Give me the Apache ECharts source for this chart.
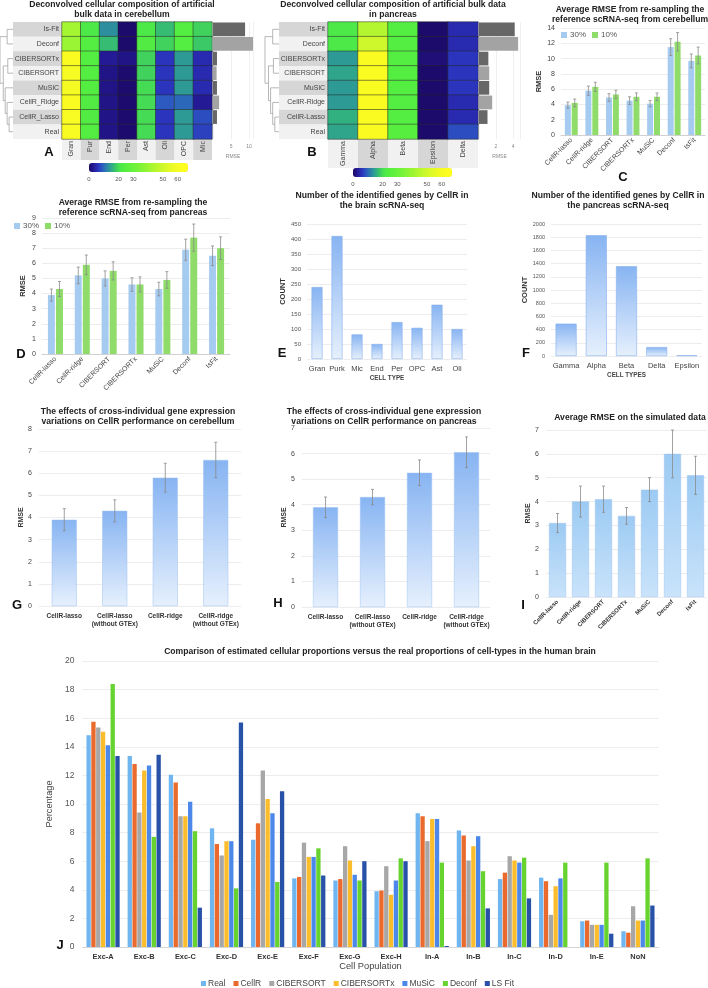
<!DOCTYPE html>
<html><head><meta charset="utf-8">
<script src="https://cdn.jsdelivr.net/npm/echarts@6/dist/echarts.min.js"></script>
<style>html,body{margin:0;padding:0;background:#fff}#c{width:708px;height:988px}</style>
</head><body><div id="c"></div>
<script>
// ================= DATA =================
const brainCells = ['Gran','Pur','End','Per','Ast','Oli','OPC','Mic'];
const brainMethods = ['Is-Fit','Deconf','CIBERSORTx','CIBERSORT','MuSiC','CellR_Ridge','CellR_Lasso','Real'];
const brainProp = [
  [42,22,13,0.3,22,17,24,19],
  [40,24,17,0.3,23,19,24,18],
  [62,24,3,2,19,6,14,5],
  [60,24,2,0.5,19,6,14,5],
  [60,24,2,0.5,20,6,14,5],
  [62,23,2,0.5,20,9,10,3],
  [61,23,2,0.5,20,6,14,8],
  [61,24,2,0.5,20,6,14,7]
];
const brainRMSE = [8.9,11.4,1.1,1.0,1.1,1.7,1.1,null];
const pancCells = ['Gamma','Alpha','Beta','Epsilon','Delta'];
const pancMethods = ['Is-Fit','Deconf','CIBERSORTx','CIBERSORT','MuSiC','CellR-Ridge','CellR-Lasso','Real'];
const pancProp = [
  [22,45,24,0.3,5],
  [22,50,24,0.3,5],
  [14,62,24,1,6],
  [15,62,24,0.3,6],
  [14,62,24,0.3,6],
  [14,62,24,0.3,5],
  [16,62,24,0.3,5],
  [15,62,25,0.3,8]
];
const pancRMSE = [4.2,4.6,1.1,1.2,1.2,1.55,1.0,null];
const colorbarTicks = [0,20,30,50,60];

const methods7 = ['CellR-lasso','CellR-ridge','CIBERSORT','CIBERSORTx','MuSiC','Deconf','IsFit'];
const cereb30 = [3.9,5.8,4.9,4.5,4.1,11.5,9.7];
const cereb30Err = [0.4,0.6,0.5,0.5,0.4,1.1,0.9];
const cereb10 = [4.2,6.3,5.3,5.0,5.0,12.2,10.4];
const cereb10Err = [0.5,0.6,0.55,0.5,0.5,1.2,1.1];
const panc30 = [3.9,5.2,5.0,4.6,4.3,6.9,6.5];
const panc30Err = [0.4,0.55,0.5,0.45,0.45,0.7,0.65];
const panc10 = [4.3,5.9,5.5,4.6,4.9,7.7,7.0];
const panc10Err = [0.5,0.65,0.6,0.5,0.55,0.9,0.75];

const brainTypes = ['Gran','Purk','Mic','End','Per','OPC','Ast','Oli'];
const brainGenes = [240,410,82,50,123,104,181,100];
const pancTypes = ['Gamma','Alpha','Beta','Delta','Epsilon'];
const pancGenes = [490,1830,1360,135,10];

const gtexCats = ['CellR-lasso','CellR-lasso\n(without GTEx)','CellR-ridge','CellR-ridge\n(without GTEx)'];
const gtexCereb = [3.9,4.3,5.8,6.6];
const gtexCerebErr = [0.5,0.5,0.65,0.8];
const gtexPanc = [3.9,4.3,5.25,6.05];
const gtexPancErr = [0.4,0.3,0.5,0.6];

const simRMSE = [3.1,4.0,4.1,3.4,4.5,6.0,5.1];
const simErr = [0.4,0.65,0.55,0.35,0.5,1.0,0.8];

const popCats = ['Exc-A','Exc-B','Exc-C','Exc-D','Exc-E','Exc-F','Exc-G','Exc-H','In-A','In-B','In-C','In-D','In-E','NoN'];
const popNames = ['Real','CellR','CIBERSORT','CIBERSORTx','MuSiC','Deconf','LS Fit'];
const popReal       = [14.8,13.35,12.05,8.3,7.5,4.8,4.65,3.9,9.35,8.15,4.75,4.85,1.8,1.1];
const popCellR      = [15.75,12.8,11.5,7.2,8.65,4.9,4.75,3.95,9.15,7.8,5.2,4.6,1.85,1.0];
const popCIBERSORT  = [15.35,9.4,9.15,6.4,12.35,7.3,7.05,5.65,7.4,6.05,6.35,2.25,1.55,2.85];
const popCIBERSORTx = [15.05,12.35,9.15,7.4,10.35,6.3,6.05,3.65,8.95,7.05,6.05,4.25,1.55,1.85];
const popMuSiC      = [14.1,12.7,10.15,7.4,9.35,6.3,5.05,4.65,8.95,7.75,5.9,4.8,1.55,1.85];
const popDeconf     = [18.4,7.7,8.1,4.1,4.55,6.9,4.65,6.2,5.9,5.3,6.25,5.9,5.9,6.2];
const popLSFit      = [13.35,13.45,2.75,15.7,10.9,5.0,6.0,6.0,0.07,2.7,3.4,0,0.93,2.9];

// ================= BUILD =================
const FF = 'Liberation Sans, Arial, sans-serif';
const grids=[], xAxes=[], yAxes=[], series=[], graphics=[], visualMaps=[], legends=[];
function addGrid(g, x, y){
  grids.push(Object.assign({containLabel:false, outerBoundsMode:'none'}, g));
  const gi = grids.length-1; x.gridIndex=gi; y.gridIndex=gi;
  xAxes.push(x); yAxes.push(y);
  return {x: xAxes.length-1, y: yAxes.length-1};
}
function txt(x, y, text, font, opt){
  graphics.push({type:'text', x, y, silent:true, style:Object.assign({text, font, fill:'#222', textAlign:'center', textVerticalAlign:'top'}, opt||{})});
}
const gridLine = {show:true, lineStyle:{color:'#e8e8e8', width:0.8}};
const noLine = {show:false};
const plainNum = v => String(v);

// ---------- heatmaps ----------
const hmColors = ['#1c0966','#241a96','#2a35bd','#2c5cc0','#2c86a6','#2fa88a','#3ccb62','#4be84a','#55ee40','#5ff03e','#6af23b','#78f338','#88f436','#98f534','#a8f632','#b8f72f','#c8f82c','#d6f92a','#e4fa27','#f0fb25','#f8fc22','#fdfd20','#ffff1f'];
function rowRich(){
  return {
    g:{backgroundColor:'#d6d6d6', width:46, height:14.625, padding:[0,3,0,0], align:'right', fontSize:7, color:'#444', fontFamily:FF},
    l:{backgroundColor:'#f1f1f1', width:46, height:14.625, padding:[0,3,0,0], align:'right', fontSize:7, color:'#444', fontFamily:FF}
  };
}
function colRich(w, h){
  return {
    g:{backgroundColor:'#d6d6d6', width:w-2, height:h, padding:[0,2,0,0], align:'right', fontSize:7, color:'#444', fontFamily:FF},
    l:{backgroundColor:'#f1f1f1', width:w-2, height:h, padding:[0,2,0,0], align:'right', fontSize:7, color:'#444', fontFamily:FF}
  };
}
function heatPanel(cells, methods, props, rmse, L, W, colH, rmseW, rmseMax, rmseInt, cbLeft, cbTop, dLeft){
  const top=22, H=117;
  const colW = W/cells.length;
  const ax = addGrid({left:L, top, width:W, height:H},
    {type:'category', data:cells, position:'bottom', axisLine:noLine, axisTick:noLine, splitLine:noLine,
     axisLabel:{rotate:90, margin:0, interval:0, formatter:(v,i)=>`{${i%2?'g':'l'}|${v}}`, rich:colRich(colH, colW)}},
    {type:'category', data:methods, inverse:true, axisLine:noLine, axisTick:noLine, splitLine:noLine,
     axisLabel:{margin:0, interval:0, formatter:(v,i)=>`{${i%2?'l':'g'}|${v}}`, rich:rowRich()}});
  const data=[];
  props.forEach((r,ri)=>r.forEach((v,ci)=>data.push([ci,ri,v])));
  series.push({type:'heatmap', xAxisIndex:ax.x, yAxisIndex:ax.y, data, itemStyle:{borderColor:'#262626', borderWidth:0.5}, emphasis:{disabled:true}, silent:true});
  const si = series.length-1;
  visualMaps.push({type:'continuous', seriesIndex:si, min:0, max:67, orient:'horizontal', left:cbLeft, top:cbTop,
    itemWidth:9, itemHeight:99, calculable:false, hoverLink:false, padding:0, inRange:{color:hmColors}, textStyle:{fontSize:1, color:'rgba(0,0,0,0)'}});
  addGrid({left:cbLeft, top:cbTop+9, width:99, height:1},
    {type:'value', min:0, max:67, interval:10, axisLine:noLine, axisTick:noLine, splitLine:noLine,
     axisLabel:{margin:3, fontSize:6, color:'#555', showMaxLabel:false, formatter:v=>colorbarTicks.includes(v)?String(v):''}},
    {type:'value', show:false});
  const bx = addGrid({left:L+W+1, top, width:rmseW, height:H},
    {type:'value', min:0, max:rmseMax, interval:rmseInt, axisLine:noLine, axisTick:noLine,
     splitLine:{show:true, lineStyle:{color:'#e6e6e6', width:0.6}},
     axisLabel:{margin:5, fontSize:5, color:'#888', showMinLabel:false, showMaxLabel:false},
     name:'RMSE', nameLocation:'middle', nameGap:15, nameTextStyle:{fontSize:5, color:'#888'}},
    {type:'category', data:methods, inverse:true, show:false});
  series.push({type:'bar', xAxisIndex:bx.x, yAxisIndex:bx.y, data:rmse, barCategoryGap:'6%', silent:true,
    itemStyle:{color:p=>p.dataIndex%2?'#a3a3a3':'#676767'}});
  const rowH = H/methods.length, w = L-49-dLeft;
  const boxLeft = L-49;
  const tree = [[0,1,0.45],[[2,3,0.4],[4,[5,[6,7,0.3],0.45],0.6],0.75],1.0];
  const ln=(x1,y1,x2,y2)=>graphics.push({type:'line', silent:true, shape:{x1,y1,x2,y2}, style:{stroke:'#9a9a9a', lineWidth:0.7}});
  function node(n){
    if(typeof n==='number') return {x:boxLeft, y:top+rowH*(n+0.5)};
    const a=node(n[0]), b=node(n[1]); const x=boxLeft-n[2]*w;
    ln(x,a.y,x,b.y); ln(x,a.y,a.x,a.y); ln(x,b.y,b.x,b.y);
    return {x, y:(a.y+b.y)/2};
  }
  node(tree);
}
heatPanel(brainCells, brainMethods, brainProp, brainRMSE, 62, 150, 21, 40, 11.1, 5, 89, 163, 0);
heatPanel(pancCells, pancMethods, pancProp, pancRMSE, 328, 150, 29, 41, 4.82, 2, 353, 168, 265);

// ---------- error bar helper ----------
function errSeries(ax, vals, errs, offset){
  return {type:'custom', xAxisIndex:ax.x, yAxisIndex:ax.y, z:10, silent:true,
    data: vals.map((v,i)=>[i, v-errs[i], v+errs[i]]),
    encode:{x:0, y:[1,2]},
    renderItem(params, api){
      const lo = api.coord([api.value(0), api.value(1)]);
      const hi = api.coord([api.value(0), api.value(2)]);
      const x = lo[0]+offset, cw=1.5, st={stroke:'#8a8a8a', lineWidth:0.8};
      return {type:'group', children:[
        {type:'line', shape:{x1:x,y1:lo[1],x2:x,y2:hi[1]}, style:st},
        {type:'line', shape:{x1:x-cw,y1:lo[1],x2:x+cw,y2:lo[1]}, style:st},
        {type:'line', shape:{x1:x-cw,y1:hi[1],x2:x+cw,y2:hi[1]}, style:st}]};
    }};
}
const BLUE='#a6cbf0', GREEN='#8fdc6a';
function pairPanel(g, ymax, yint, v30, e30, v10, e10, bw, nameGap, labelSize){
  const ax = addGrid(g,
    {type:'category', data:methods7, axisLine:{show:true, lineStyle:{color:'#d0d0d0'}}, axisTick:noLine,
     axisLabel:{rotate:45, interval:0, fontSize:labelSize, color:'#444', margin:4}},
    {type:'value', min:0, max:ymax, interval:yint, axisLine:noLine, axisTick:noLine, splitLine:gridLine,
     axisLabel:{fontSize:7, color:'#444', margin:6},
     name:'RMSE', nameLocation:'middle', nameGap, nameTextStyle:{fontSize:7.5, fontWeight:'bold', color:'#333'}});
  series.push({type:'bar', name:'30%', xAxisIndex:ax.x, yAxisIndex:ax.y, data:v30, barWidth:bw, barGap:'15%', itemStyle:{color:BLUE}, silent:true});
  series.push({type:'bar', name:'10%', xAxisIndex:ax.x, yAxisIndex:ax.y, data:v10, barWidth:bw, barGap:'15%', itemStyle:{color:GREEN}, silent:true});
  const off = bw*1.15/2;
  series.push(errSeries(ax, v30, e30, -off));
  series.push(errSeries(ax, v10, e10, off));
}
pairPanel({left:561, top:28, width:144, height:107}, 14, 2, cereb30, cereb30Err, cereb10, cereb10Err, 6, 18, 7);
pairPanel({left:42, top:218, width:188, height:136}, 9, 1, panc30, panc30Err, panc10, panc10Err, 7, 15, 7);
legends.push({data:['30%','10%'], left:561, top:31, itemWidth:6, itemHeight:6, itemGap:6, icon:'rect', padding:0, textStyle:{fontSize:8, color:'#555', padding:[0,0,0,-2]}, selectedMode:false});
legends.push({data:['30%','10%'], left:14, top:222, itemWidth:6, itemHeight:6, itemGap:6, icon:'rect', padding:0, textStyle:{fontSize:8, color:'#555', padding:[0,0,0,-2]}, selectedMode:false});

// ---------- gradient bar panels ----------
const gradBlue = ()=>new echarts.graphic.LinearGradient(0,0,0,1,[{offset:0,color:'#87b4f2'},{offset:1,color:'#e6f0fd'}]);
function countPanel(g, cats, vals, ymax, yint, bw, xname, yLabSize){
  const ax = addGrid(g,
    {type:'category', data:cats, axisLine:noLine, axisTick:noLine,
     axisLabel:{interval:0, fontSize:7.5, color:'#444', margin:6},
     name:xname, nameLocation:'middle', nameGap:16, nameTextStyle:{fontSize:6.3, fontWeight:'bold', color:'#444'}},
    {type:'value', min:0, max:ymax, interval:yint, axisLine:noLine, axisTick:noLine, splitLine:gridLine,
     axisLabel:{fontSize:yLabSize, color:'#555', margin:6, formatter:plainNum},
     name:'COUNT', nameLocation:'middle', nameGap:17, nameTextStyle:{fontSize:7.5, fontWeight:'bold', color:'#333'}});
  series.push({type:'bar', xAxisIndex:ax.x, yAxisIndex:ax.y, data:vals, barWidth:bw, silent:true,
    itemStyle:{color:gradBlue(), borderColor:'#86b0ec', borderWidth:0.6}});
}
countPanel({left:307, top:224, width:160, height:135}, brainTypes, brainGenes, 450, 50, 11, 'CELL TYPE', 6);
countPanel({left:551, top:224, width:151, height:132}, pancTypes, pancGenes, 2000, 200, 21, 'CELL TYPES', 5.5);

function rmsePanel(g, cats, vals, errs, ymax, bw, rot, labSize, color, nameGap){
  const ax = addGrid(g,
    {type:'category', data:cats, axisLine:noLine, axisTick:noLine,
     axisLabel:{interval:0, fontSize:labSize, fontWeight:'bold', color:'#333', margin:rot?4:6, rotate:rot, lineHeight:8}},
    {type:'value', min:0, max:ymax, interval:1, axisLine:noLine, axisTick:noLine, splitLine:gridLine,
     axisLabel:{fontSize:7, color:'#444', margin:7},
     name:'RMSE', nameLocation:'middle', nameGap, nameTextStyle:{fontSize:7, fontWeight:'bold', color:'#333'}});
  series.push({type:'bar', xAxisIndex:ax.x, yAxisIndex:ax.y, data:vals, barWidth:bw, silent:true,
    itemStyle:{color:color, borderColor:'#9cc3f0', borderWidth:0.5}});
  series.push(errSeries(ax, vals, errs, 0));
}
rmsePanel({left:39, top:429, width:202, height:177}, gtexCats, gtexCereb, gtexCerebErr, 8, 25, 0, 6.5, gradBlue(), 14);
rmsePanel({left:302, top:428, width:188, height:179}, gtexCats, gtexPanc, gtexPancErr, 7, 25, 0, 6.5, gradBlue(), 14);
rmsePanel({left:546, top:430, width:161, height:167}, methods7, simRMSE, simErr, 7, 17, 45, 6,
  new echarts.graphic.LinearGradient(0,0,0,1,[{offset:0,color:'#9ccaf3'},{offset:1,color:'#c9e3fa'}]), 13);

// ---------- J ----------
const popColors = ['#6fb5ef','#ea6a2e','#a7a7a7','#fbbd2c','#4c88ea','#66d32e','#2852a8'];
const popVals = [popReal,popCellR,popCIBERSORT,popCIBERSORTx,popMuSiC,popDeconf,popLSFit];
const jx = addGrid({left:82.5, top:661, width:576, height:286},
  {type:'category', data:popCats, axisLine:{show:true, lineStyle:{color:'#d5d5d5'}}, axisTick:noLine,
   axisLabel:{interval:0, fontSize:7.4, fontWeight:'bold', color:'#333', margin:6},
   name:'Cell Population', nameLocation:'middle', nameGap:15, nameTextStyle:{fontSize:9.3, color:'#444'}},
  {type:'value', min:0, max:20, interval:2, axisLine:noLine, axisTick:noLine, splitLine:gridLine,
   axisLabel:{fontSize:8.5, color:'#555', margin:8},
   name:'Percentage', nameLocation:'middle', nameGap:18, nameTextStyle:{fontSize:9.2, color:'#444'}});
popVals.forEach((d,i)=>series.push({type:'bar', name:popNames[i], xAxisIndex:jx.x, yAxisIndex:jx.y, data:d,
  barWidth:4.3, barGap:'12%', itemStyle:{color:popColors[i]}, silent:true}));
legends.push({data:popNames, left:201, top:979, itemWidth:5, itemHeight:5, itemGap:8, icon:'rect', padding:0,
  textStyle:{fontSize:8.5, color:'#444', padding:[0,0,0,-3]}, selectedMode:false});

// ---------- titles & panel letters ----------
const TF = 'bold 8.6px Liberation Sans, Arial, sans-serif';
txt(122, 0, 'Deconvolved cellular composition of artificial\nbulk data in cerebellum', TF, {lineHeight:10});
txt(393, 0, 'Deconvolved cellular composition of artificial bulk data\nin pancreas', TF, {lineHeight:10});
txt(630, 4, 'Average RMSE from re-sampling the\nreference scRNA-seq from cerebellum', TF, {lineHeight:10.5});
txt(133, 197, 'Average RMSE from re-sampling the\nreference scRNA-seq from pancreas', TF, {lineHeight:10.5});
txt(382, 190, 'Number of the identified genes by CellR in\nthe brain scRNA-seq', TF, {lineHeight:10.5});
txt(618, 190, 'Number of the identified genes by CellR in\nthe pancreas scRNA-seq', TF, {lineHeight:10.5});
txt(138, 406, 'The effects of cross-individual gene expression\nvariations on CellR performance on cerebellum', TF, {lineHeight:10.5});
txt(384, 406, 'The effects of cross-individual gene expression\nvariations on CellR performance on pancreas', TF, {lineHeight:10.5});
txt(630, 413, 'Average RMSE on the simulated data', TF);
txt(380, 647, 'Comparison of estimated cellular proportions versus the real proportions of cell-types in the human brain', TF);
const LF = 'bold 13px Liberation Sans, Arial, sans-serif';
[['A',49,146],['B',312,146],['C',623,171],['D',21,348],['E',282,347],['F',526,347],['G',17,599],['H',278,597],['I',523,599],['J',60,939]]
  .forEach(([t,x,y])=>txt(x,y,t,LF,{fill:'#111'}));

const chart = echarts.init(document.getElementById('c'), null, {renderer:'canvas'});
chart.setOption({
  animation:false,
  backgroundColor:'#fff',
  textStyle:{fontFamily:FF},
  grid:grids, xAxis:xAxes, yAxis:yAxes, series, visualMap:visualMaps, legend:legends, graphic:graphics
});
</script></body></html>
